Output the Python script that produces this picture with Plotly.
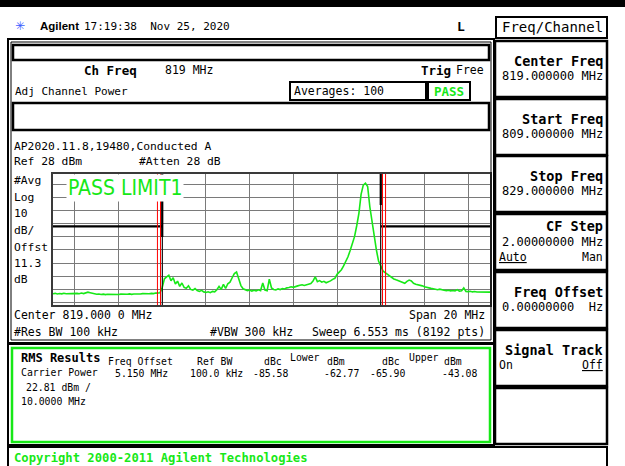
import numpy as np
import plotly.graph_objects as go

# ---------------- data ----------------
start_freq_mhz = 809.0
stop_freq_mhz = 829.0
ref_level_dbm = 28
db_per_div = 10

# trace levels (dBm) sampled every 0.1 MHz from 809.0 to 829.0 MHz
trace_dbm = [
    -63.4, -63.1, -63.6, -63.2, -63.5, -63.0, -63.4, -63.3, -63.7, -63.2,
    -63.5, -63.1, -63.4, -62.9, -63.3, -63.0, -62.2, -62.6, -63.2, -63.5,
    -63.8, -63.6, -64.0, -63.7, -64.1, -63.8, -63.9, -64.2, -63.8, -63.9,
    -64.0, -63.7, -63.9, -63.6, -63.8, -63.5, -63.9, -63.6, -63.7, -63.4,
    -63.6, -63.3, -63.5, -63.2, -63.4, -63.1, -63.3, -62.9, -63.0, -62.6,
    -58.5, -52.0, -50.5, -49.3, -53.5, -51.2, -56.0, -53.8, -57.8, -55.2,
    -58.6, -59.2, -57.3, -60.1, -60.6, -59.4, -61.0, -61.6, -60.8, -62.0,
    -62.4, -61.9, -62.6, -61.6, -61.9, -60.4, -57.8, -60.1, -56.2, -59.4,
    -55.8, -54.6, -51.2, -48.0, -46.8, -52.0, -57.2, -59.6, -60.1, -61.0,
    -60.5, -61.4, -60.8, -61.2, -60.4, -61.0, -55.2, -60.6, -61.1, -52.3,
    -59.0, -60.1, -60.5, -59.7, -60.2, -59.4, -59.8, -58.9, -58.7, -58.1,
    -58.5, -57.7, -57.4, -56.9, -56.6, -57.1, -56.4, -55.9, -55.6, -53.8,
    -50.5, -54.2, -53.4, -54.6, -53.9, -55.0, -54.4, -53.6, -52.4, -51.6,
    -48.6, -47.0, -45.1, -42.2, -39.0, -35.2, -30.4, -25.8, -19.8, -11.5,
    -2.0, 12.5, 19.5, 21.0, 18.5, 3.0, -8.5, -18.5, -30.0, -38.5,
    -43.0, -46.0, -47.3, -48.6, -50.0, -50.8, -52.1, -52.8, -53.6, -54.4,
    -55.0, -55.4, -54.0, -53.0, -53.6, -55.4, -56.1, -56.4, -57.1, -57.4,
    -58.0, -58.6, -58.9, -59.3, -59.6, -60.0, -60.3, -59.9, -60.5, -60.8,
    -61.0, -60.7, -61.2, -60.9, -61.3, -60.3, -61.5, -61.2, -59.0, -61.6,
    -61.8, -61.5, -62.0, -61.7, -62.1, -62.2, -61.8, -62.3, -62.0, -62.4, -62.2,
]
trace_freq = np.linspace(start_freq_mhz, stop_freq_mhz, len(trace_dbm))

# limit lines (MHz, dBm)
lower_limit_x = [809.0, 814.0, 814.0, 814.0]
lower_limit_y = [-12, -12, -20, 28]
upper_limit_top_x = [824.0, 824.0]
upper_limit_top_y = [28, 4.3]
upper_limit_x = [824.0, 829.0]
upper_limit_y = [-12, -12]
channel_edges = [814.0, 824.0]
# offset integration bandwidth markers (MHz)
offset_markers = [813.78, 813.92, 824.08, 824.22]

# results table
rms_headers = ["Freq Offset", "Ref BW", "dBc", "dBm", "dBc", "dBm"]
rms_values = ["5.150 MHz", "100.0 kHz", "-85.58", "-62.77", "-65.90", "-43.08"]

softkeys = [
    ("Center Freq", "819.000000 MHz"),
    ("Start Freq", "809.000000 MHz"),
    ("Stop Freq", "829.000000 MHz"),
    ("CF Step", "2.00000000 MHz"),
    ("Freq Offset", "0.00000000  Hz"),
    ("Signal Track", None),
    (None, None),
]

# ---------------- layout helpers ----------------
W, H = 625, 466
GREEN = "#17e817"
MONO = "DejaVu Sans Mono, Liberation Mono, monospace"
NARROW = "Liberation Sans Narrow, DejaVu Sans Condensed, Liberation Sans, sans-serif"


def px(x):
    return x / W


def py(y):
    return 1 - y / H


annotations = []
shapes = []


def txt(x, y, s, size=11.3, color="black", anchor="left", family=MONO, bg=None):
    a = dict(x=px(x), y=py(y), xref="paper", yref="paper", text=s, showarrow=False,
             xanchor=anchor, yanchor="middle",
             font=dict(family=family, size=size, color=color))
    if bg:
        a["bgcolor"] = bg
    annotations.append(a)


def rect(x0, y0, x1, y1, color="black", width=2, fill=None):
    shapes.append(dict(type="rect", xref="paper", yref="paper",
                       x0=px(x0), x1=px(x1), y0=py(y1), y1=py(y0),
                       line=dict(color=color, width=width),
                       fillcolor=fill if fill else "rgba(0,0,0,0)", layer="above"))


# ---------------- figure ----------------
fig = go.Figure()
fig.add_trace(go.Scatter(x=trace_freq, y=trace_dbm, mode="lines",
                         line=dict(color=GREEN, width=1.6), hoverinfo="skip"))
fig.add_trace(go.Scatter(x=lower_limit_x, y=lower_limit_y, mode="lines",
                         line=dict(color="black", width=2.2)))
fig.add_trace(go.Scatter(x=upper_limit_top_x, y=upper_limit_top_y, mode="lines",
                         line=dict(color="black", width=2.2)))
fig.add_trace(go.Scatter(x=upper_limit_x, y=upper_limit_y, mode="lines",
                         line=dict(color="black", width=2.2)))
bottom = ref_level_dbm - 10 * db_per_div
for f in channel_edges:
    fig.add_trace(go.Scatter(x=[f, f], y=[ref_level_dbm, bottom], mode="lines",
                             line=dict(color="black", width=1)))
for f in offset_markers:
    fig.add_trace(go.Scatter(x=[f, f], y=[ref_level_dbm, bottom], mode="lines",
                             line=dict(color="#ff0000", width=1)))

# frames
rect(0, 0, 625, 7, width=0, fill="black")
rect(8, 39, 494, 343, width=2)
rect(11, 42, 491, 340, width=1)
rect(13, 45, 489, 60, width=2.5)
rect(13, 103, 489, 130, width=2.5)
rect(290, 82, 426, 100, width=2)
rect(428, 82, 470, 100, width=2)
rect(8, 344, 494, 445, width=2)
rect(12, 348, 490, 442, color=GREEN, width=2.5)
rect(8, 447, 607, 475, width=2)
rect(496, 17, 607, 38, width=2)

# header
txt(20, 26, "✳", size=12, color="#3c5cff", anchor="center", family="DejaVu Sans")
txt(38, 26, "<b>Agilent</b>", size=11.5, family="Liberation Sans, Arial, sans-serif")
txt(82, 26, "17:19:38  Nov 25, 2020", size=11)
txt(455, 26, "<b>L</b>", size=13)
txt(500, 27, "Freq/Channel", size=14)

# main panel texts
txt(82, 70, "<b>Ch Freq</b>", size=12.5)
txt(163, 70, "819 MHz", size=11.5)
txt(486, 70, "Free", size=11.5, anchor="right")
txt(453, 70, "<b>Trig</b>", size=12.5, anchor="right")
txt(13, 91, "Adj Channel Power", size=11)
txt(292, 91, "Averages: 100", size=11.5)
txt(449, 91, "<b>PASS</b>", size=12.5, color=GREEN, anchor="center")
txt(12, 146, "AP2020.11.8,19480,Conducted A", size=11.3)
txt(12, 161, "Ref 28 dBm", size=11.3)
txt(137, 161, "#Atten 28 dB", size=11.3)
for yy, s in zip([180, 197, 213, 230, 247, 263, 279],
                 ["#Avg", "Log", "10", "dB/", "Offst", "11.3", "dB"]):
    txt(12, yy, s, size=11.3)
txt(66, 188, "PASS LIMIT1", size=21, color=GREEN, family=NARROW, bg="white")
txt(12, 315, "Center 819.000 0 MHz", size=11.5)
txt(487, 315, "Span 20 MHz", size=11.5, anchor="right")
txt(12, 332, "#Res BW 100 kHz", size=11.5)
txt(208, 332, "#VBW 300 kHz", size=11.5)
txt(487, 332, "Sweep 6.553 ms (8192 pts)", size=11.5, anchor="right")

# RMS results panel
txt(19, 358, "<b>RMS Results</b>", size=12)
for xx, s in zip([106, 195, 262, 325, 380, 442], rms_headers):
    txt(xx, 361, s, size=9.8)
txt(288, 357, "Lower", size=9.8)
txt(407, 357, "Upper", size=9.8)
txt(19, 372, "Carrier Power", size=9.8)
for xx, s in zip([113, 188, 251, 322, 368, 440], rms_values):
    txt(xx, 373, s, size=9.8)
txt(24, 387, "22.81 dBm /", size=9.8)
txt(19, 401, "10.0000 MHz", size=9.8)

txt(12, 458, "<b>Copyright 2000-2011 Agilent Technologies</b>", size=12.2, color=GREEN)

# softkeys
tops = [41, 99, 156, 214, 272, 330, 388]
for top, (title, value) in zip(tops, softkeys):
    rect(495, top, 607, top + 56, width=2.5)
    if title == "CF Step":
        txt(605, top + 12, "<b>" + title + "</b>", size=13.5, anchor="right")
        txt(605, top + 28, value, size=12, anchor="right")
        txt(497, top + 43, "<u>Auto</u>", size=11.5)
        txt(605, top + 43, "Man", size=11.5, anchor="right")
        continue
    if title:
        txt(605, top + 20, "<b>" + title + "</b>", size=13.5, anchor="right")
    if value:
        txt(605, top + 35, value, size=12, anchor="right")
txt(497, 365, "On", size=11.5)
txt(605, 365, "<u>Off</u>", size=11.5, anchor="right")

fig.update_layout(
    width=W, height=H, margin=dict(l=0, r=0, t=0, b=0),
    paper_bgcolor="white", plot_bgcolor="white", showlegend=False,
    shapes=shapes, annotations=annotations,
    xaxis=dict(domain=[px(53), px(490)], range=[start_freq_mhz, stop_freq_mhz], dtick=2,
               showticklabels=False, ticks="", showgrid=True, gridcolor="#7a7a7a", gridwidth=1.4,
               zeroline=False, showline=True, mirror=True, linecolor="#3a3a3a", linewidth=2,
               fixedrange=True),
    yaxis=dict(domain=[py(305), py(174)], range=[bottom, ref_level_dbm], dtick=db_per_div,
               showticklabels=False, ticks="", showgrid=True, gridcolor="#7a7a7a", gridwidth=1.4,
               zeroline=False, showline=True, mirror=True, linecolor="#3a3a3a", linewidth=2,
               fixedrange=True),
)

fig.write_html("out.html", config={"displayModeBar": False},
               post_script="document.body.style.margin='0';document.body.style.overflow='hidden';")
